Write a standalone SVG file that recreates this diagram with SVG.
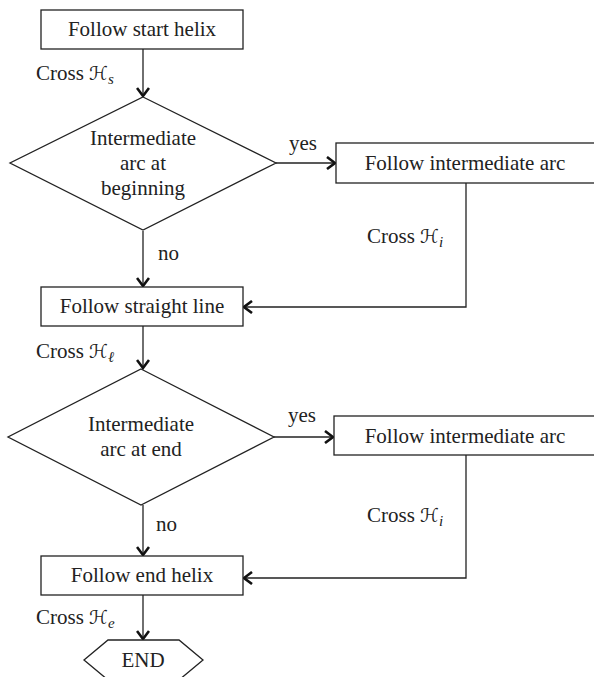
<svg xmlns="http://www.w3.org/2000/svg" width="594" height="677" viewBox="0 0 594 677">
<defs>
<style>
.n{fill:#fff;stroke:#222;stroke-width:1.3}
.t{font-family:"Liberation Serif","DejaVu Serif",serif;font-size:21px;fill:#222;text-anchor:middle}
.l{font-family:"Liberation Serif","DejaVu Serif",serif;font-size:21px;fill:#222}
.h{font-family:"DejaVu Sans","DejaVu Serif",serif;font-size:19px}
.sub{font-family:"Liberation Serif",serif;font-style:italic;font-size:15px}
.c{fill:none;stroke:#222;stroke-width:1.3}
</style>
<marker id="ah" markerWidth="12" markerHeight="14" refX="10" refY="7" orient="auto" markerUnits="userSpaceOnUse">
<path d="M2,1 L10,7 L2,13" fill="none" stroke="#111" stroke-width="2.6"/>
</marker>
</defs>
<rect width="594" height="677" fill="#fff"/>
<g id="connectors">
<line class="c" x1="143" y1="49" x2="143" y2="96" marker-end="url(#ah)"/>
<line class="c" x1="276" y1="163" x2="335" y2="163" marker-end="url(#ah)"/>
<polyline class="c" points="466,183 466,307 244,307" marker-end="url(#ah)"/>
<line class="c" x1="143" y1="231" x2="143" y2="286" marker-end="url(#ah)"/>
<line class="c" x1="143" y1="326" x2="143" y2="368" marker-end="url(#ah)"/>
<line class="c" x1="274" y1="437" x2="333" y2="437" marker-end="url(#ah)"/>
<polyline class="c" points="466,455 466,578 244,578" marker-end="url(#ah)"/>
<line class="c" x1="143" y1="505" x2="143" y2="555" marker-end="url(#ah)"/>
<line class="c" x1="143" y1="595" x2="143" y2="639" marker-end="url(#ah)"/>
<text class="l" x="36" y="80">Cross <tspan class="h">ℋ</tspan><tspan class="sub" dy="4">s</tspan></text>
<text class="l" x="289" y="150">yes</text>
<text class="l" x="367" y="243">Cross <tspan class="h">ℋ</tspan><tspan class="sub" dy="4">i</tspan></text>
<text class="l" x="158" y="260">no</text>
<text class="l" x="36" y="358">Cross <tspan class="h">ℋ</tspan><tspan class="sub" dy="4">ℓ</tspan></text>
<text class="l" x="288" y="422">yes</text>
<text class="l" x="367" y="522">Cross <tspan class="h">ℋ</tspan><tspan class="sub" dy="4">i</tspan></text>
<text class="l" x="156" y="531">no</text>
<text class="l" x="36" y="624">Cross <tspan class="h">ℋ</tspan><tspan class="sub" dy="4">e</tspan></text>
</g>
<g id="start">
<rect class="n" x="41" y="10" width="202" height="39"/>
<text class="t" x="142" y="36">Follow start helix</text>
</g>
<g id="decision1">
<polygon class="n" points="143,97 276,163 143,230 10,163"/>
<text class="t" x="143" y="145">Intermediate</text>
<text class="t" x="143" y="170">arc at</text>
<text class="t" x="143" y="195">beginning</text>
</g>
<g id="arc1">
<rect class="n" x="336" y="143" width="270" height="40"/>
<text class="t" x="465" y="170">Follow intermediate arc</text>
</g>
<g id="straight">
<rect class="n" x="41" y="287" width="202" height="39"/>
<text class="t" x="142" y="313">Follow straight line</text>
</g>
<g id="decision2">
<polygon class="n" points="141,369 274,437 141,505 8,437"/>
<text class="t" x="141" y="431">Intermediate</text>
<text class="t" x="141" y="456">arc at end</text>
</g>
<g id="arc2">
<rect class="n" x="334" y="416" width="270" height="39"/>
<text class="t" x="465" y="443">Follow intermediate arc</text>
</g>
<g id="endhelix">
<rect class="n" x="41" y="556" width="202" height="39"/>
<text class="t" x="142" y="582">Follow end helix</text>
</g>
<g id="end">
<polygon class="n" points="84,660 108,640 179,640 203,660 179,680 108,680"/>
<text class="t" x="143" y="667">END</text>
</g>
</svg>
